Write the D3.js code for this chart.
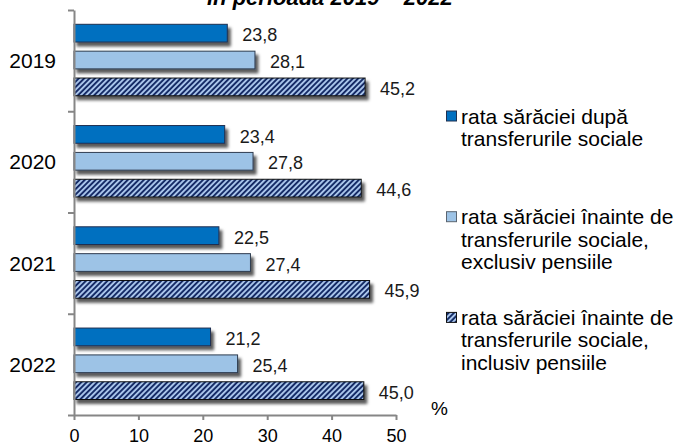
<!DOCTYPE html>
<html>
<head>
<meta charset="utf-8">
<script src="https://cdn.jsdelivr.net/npm/d3@7"></script>
<style>
  body { margin: 0; background: #fff; }
  svg { display: block; font-family: Arial, "Liberation Sans", sans-serif; }
</style>
</head>
<body>
<div id="chart"></div>
<script>
// data
var years = ["2019", "2020", "2021", "2022"];
var seriesNames = [
    "rata sărăciei după transferurile sociale",
    "rata sărăciei înainte de transferurile sociale, exclusiv pensiile",
    "rata sărăciei înainte de transferurile sociale, inclusiv pensiile"
];
var dupaTransferuri = [23.8, 23.4, 22.5, 21.2];
var inainteExclusiv = [28.1, 27.8, 27.4, 25.4];
var inainteInclusiv = [45.2, 44.6, 45.9, 45.0];
var xTicks = [0, 10, 20, 30, 40, 50];
var legendLines = [
    ["rata sărăciei după", "transferurile sociale"],
    ["rata sărăciei înainte de", "transferurile sociale,", "exclusiv pensiile"],
    ["rata sărăciei înainte de", "transferurile sociale,", "inclusiv pensiile"]
];
var titleText = "în perioada 2019 – 2022";

var allSeries = [dupaTransferuri, inainteExclusiv, inainteInclusiv];
var rows = [];
years.forEach(function(y, i) {
    allSeries.forEach(function(s, j) {
        rows.push({year: y, series: j, value: s[i]});
    });
});

var width = 679, height = 444;
var ro = d3.formatLocale({decimal: ",", thousands: ".", grouping: [3], currency: ["", ""]});
var fmt = ro.format(".1f");

var svg = d3.select("#chart").append("svg")
    .attr("width", width)
    .attr("height", height);

var defs = svg.append("defs");

// diagonal stripes for the third series
var pat = defs.append("pattern")
    .attr("id", "stripes")
    .attr("patternUnits", "userSpaceOnUse")
    .attr("width", 3.8)
    .attr("height", 3.8)
    .attr("patternTransform", "rotate(45)");
pat.append("rect").attr("width", 3.8).attr("height", 3.8).attr("fill", "#a9c4ea");
pat.append("rect").attr("width", 1.9).attr("height", 3.8).attr("fill", "#132c66");

var shadow = defs.append("filter")
    .attr("id", "shadow")
    .attr("x", "-10%").attr("y", "-40%")
    .attr("width", "130%").attr("height", "200%");
shadow.append("feDropShadow")
    .attr("dx", 3).attr("dy", 4)
    .attr("stdDeviation", 1.4)
    .attr("flood-color", "#000")
    .attr("flood-opacity", 0.65);

var fills = ["#0070c0", "#9dc3e6", "url(#stripes)"];
var strokes = ["#1f3050", "#2e3b4e", "#111"];

// scales
var x = d3.scaleLinear().domain([0, 50]).range([74, 396]);
var y0 = d3.scaleBand().domain(years).range([10, 415]).padding(0);
var y1 = d3.scaleBand().domain([0, 1, 2])
    .range([14.3, y0.bandwidth() - 15.5])
    .paddingInner(0.34)
    .paddingOuter(0);

// title (only its lower part is in view)
svg.append("text")
    .attr("x", 207)
    .attr("y", 5)
    .style("font-size", "22px")
    .style("font-weight", "bold")
    .style("font-style", "italic")
    .attr("fill", "#000")
    .text(titleText);

// bars
var bars = svg.append("g");
bars.selectAll("rect")
    .data(rows)
    .enter()
    .append("rect")
    .attr("x", x(0))
    .attr("y", function(d) { return y0(d.year) + y1(d.series); })
    .attr("width", function(d) { return x(d.value) - x(0); })
    .attr("height", y1.bandwidth())
    .attr("fill", function(d) { return fills[d.series]; })
    .attr("stroke", function(d) { return strokes[d.series]; })
    .attr("stroke-width", 1)
    .attr("filter", "url(#shadow)");

// value labels
svg.append("g").selectAll("text")
    .data(rows)
    .enter()
    .append("text")
    .attr("x", function(d) { return x(d.value) + 15; })
    .attr("y", function(d) { return y0(d.year) + y1(d.series) + y1.bandwidth() / 2; })
    .attr("dy", "0.45em")
    .style("font-size", "18px")
    .attr("fill", "#1a1a1a")
    .text(function(d) { return fmt(d.value); });

// x axis
var xAxis = svg.append("g")
    .attr("transform", "translate(0,415)")
    .call(d3.axisBottom(x).tickValues(xTicks).tickSize(5).tickSizeOuter(0).tickPadding(9));
xAxis.select(".domain").attr("stroke", "#868686").attr("stroke-width", 2);
xAxis.selectAll(".tick line").attr("stroke", "#868686").attr("stroke-width", 2);
xAxis.selectAll(".tick text")
    .style("font-size", "18px")
    .style("font-family", "Arial, 'Liberation Sans', sans-serif")
    .attr("fill", "#000");

// y axis: ticks sit on the band boundaries
var yEdges = d3.scaleLinear().domain([0, years.length]).range([10, 415]);
var yAxis = svg.append("g")
    .attr("transform", "translate(74,0)")
    .call(d3.axisLeft(yEdges).tickValues(d3.range(years.length + 1)).tickSize(6).tickSizeOuter(0).tickFormat(""));
yAxis.select(".domain").attr("stroke", "#868686").attr("stroke-width", 2);
yAxis.selectAll(".tick line").attr("stroke", "#868686").attr("stroke-width", 2);

// category labels
svg.append("g").selectAll("text")
    .data(years)
    .enter()
    .append("text")
    .attr("x", 56)
    .attr("y", function(d) { return y0(d) + y0.bandwidth() / 2; })
    .attr("dy", "0.36em")
    .attr("text-anchor", "end")
    .style("font-size", "21px")
    .attr("fill", "#000")
    .text(function(d) { return d; });

// unit
svg.append("text")
    .attr("x", 431)
    .attr("y", 415)
    .style("font-size", "19px")
    .attr("fill", "#000")
    .text("%");

// legend
var legend = svg.append("g");
var entry = legend.selectAll("g")
    .data(seriesNames)
    .enter()
    .append("g")
    .attr("transform", function(d, i) { return "translate(446," + (123.5 + i * 100.7) + ")"; });

entry.append("rect")
    .attr("x", 0.5)
    .attr("y", -12.5)
    .attr("width", 10)
    .attr("height", 10)
    .attr("fill", function(d, i) { return fills[i]; })
    .attr("stroke", function(d, i) { return i == 1 ? "#5a6470" : strokes[i]; })
    .attr("stroke-width", 1);

entry.append("text")
    .style("font-size", "21px")
    .attr("fill", "#000")
    .selectAll("tspan")
    .data(function(d, i) { return legendLines[i]; })
    .enter()
    .append("tspan")
    .attr("x", 15)
    .attr("y", function(d, k) { return k * 22.5; })
    .text(function(d) { return d; });
</script>
</body>
</html>
